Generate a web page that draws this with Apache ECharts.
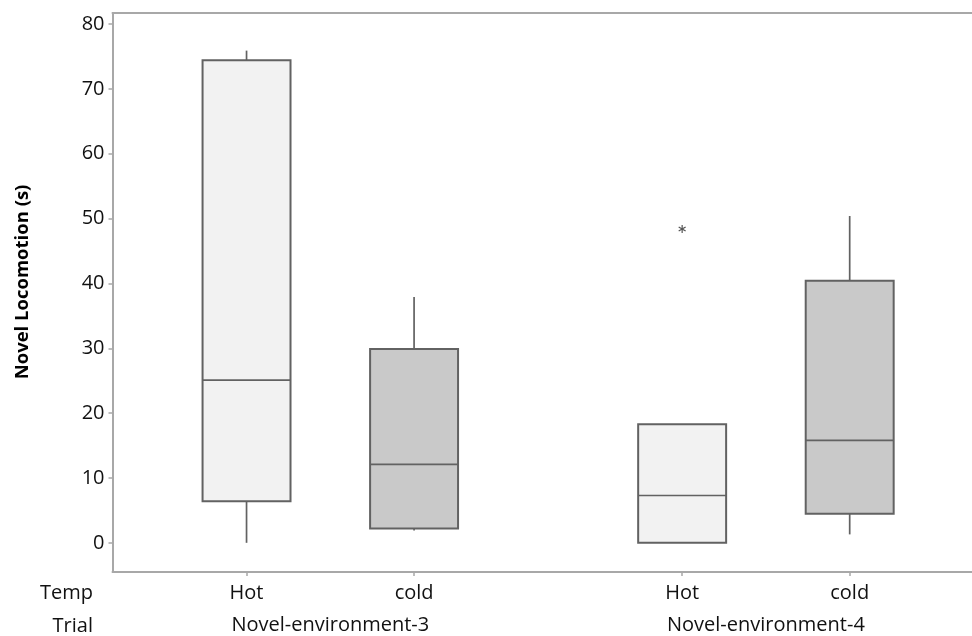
<!DOCTYPE html>
<html>
<head>
<meta charset="utf-8">
<script src="https://cdn.jsdelivr.net/npm/echarts@6/dist/echarts.min.js"></script>
<style>html,body{margin:0;padding:0;background:#fff;}#c{width:972px;height:636px;}</style>
</head>
<body>
<div id="c"></div>
<script>
// ---- data ----
var tempLabels = ['Hot', 'cold', 'Hot', 'cold'];
var trialLabels = ['Novel-environment-3', 'Novel-environment-4'];
var slotPos = [1, 2, 3.6, 4.6];          // logical slot of each box on the x axis
var trialPos = [1.5, 4.1];               // logical centre of each trial group
var boxMin = [0.0, 1.9, 0.0, 1.3];
var boxQ1 = [6.4, 2.2, 0.0, 4.5];
var boxMedian = [25.1, 12.1, 7.3, 15.8];
var boxQ3 = [74.4, 29.9, 18.3, 40.4];
var boxMax = [75.9, 37.9, 18.3, 50.4];
var outliers = [[3.6, 48.4]];
var yTicks = [0, 10, 20, 30, 40, 50, 60, 70, 80];

// ---- build ----
var boxData = slotPos.map(function (x, i) {
  return [x, boxMin[i], boxQ1[i], boxMedian[i], boxQ3[i], boxMax[i], tempLabels[i] === 'Hot' ? 0 : 1];
});
var FILLS = ['#f2f2f2', '#c9c9c9'];
var STROKE = '#626262';
var BOX_W = 0.525;
var FONT = 'Open Sans';
var TXT = '#111111';

function renderBox(params, api) {
  var x = api.value(0);
  var half = api.size([BOX_W, 0])[0] / 2;
  var pMin = api.coord([x, api.value(1)]);
  var pQ1 = api.coord([x, api.value(2)]);
  var pMed = api.coord([x, api.value(3)]);
  var pQ3 = api.coord([x, api.value(4)]);
  var pMax = api.coord([x, api.value(5)]);
  var fill = FILLS[api.value(6)];
  var ls = { stroke: STROKE, lineWidth: 1.7 };
  return {
    type: 'group',
    children: [
      { type: 'line', shape: { x1: pMin[0], y1: pMin[1], x2: pQ1[0], y2: pQ1[1] }, style: ls },
      { type: 'line', shape: { x1: pQ3[0], y1: pQ3[1], x2: pMax[0], y2: pMax[1] }, style: ls },
      { type: 'rect', shape: { x: pQ1[0] - half, y: pQ3[1], width: half * 2, height: pQ1[1] - pQ3[1] },
        style: { fill: fill, stroke: STROKE, lineWidth: 2 } },
      { type: 'line', shape: { x1: pMed[0] - half, y1: pMed[1], x2: pMed[0] + half, y2: pMed[1] }, style: ls }
    ]
  };
}

function renderStar(params, api) {
  var p = api.coord([api.value(0), api.value(1)]);
  var r = 4;
  var ls = { stroke: '#555', lineWidth: 1.2 };
  var kids = [];
  [90, 30, -30].forEach(function (deg) {
    var a = deg * Math.PI / 180;
    kids.push({ type: 'line', shape: { x1: p[0] - r * Math.cos(a), y1: p[1] - r * Math.sin(a), x2: p[0] + r * Math.cos(a), y2: p[1] + r * Math.sin(a) }, style: ls });
  });
  return { type: 'group', children: kids };
}

var chart = echarts.init(document.getElementById('c'), null, { renderer: 'canvas' });
var axisColor = '#a8a8a8';
var XMIN = 0.2, XMAX = 5.33;
chart.setOption({
  animation: false,
  backgroundColor: '#ffffff',
  grid: { left: 112.5, top: 13, right: 0, bottom: 64, show: false },
  xAxis: [
    {
      type: 'value', min: XMIN, max: XMAX, position: 'bottom',
      axisLine: { show: true, onZero: false, lineStyle: { color: axisColor, width: 2 } },
      axisTick: { show: true, length: 4, customValues: slotPos, lineStyle: { color: axisColor, width: 1.5 } },
      splitLine: { show: false },
      axisLabel: {
        customValues: slotPos, margin: 11, color: TXT, fontFamily: FONT, fontSize: 20,
        formatter: function (v) { var i = slotPos.indexOf(v); return i >= 0 ? tempLabels[i] : ''; }
      }
    },
    {
      type: 'value', min: XMIN, max: XMAX, position: 'bottom', offset: 32,
      axisLine: { show: false }, axisTick: { show: false }, splitLine: { show: false },
      axisLabel: {
        customValues: trialPos, margin: 11, color: TXT, fontFamily: FONT, fontSize: 20,
        formatter: function (v) { var i = trialPos.indexOf(v); return i >= 0 ? trialLabels[i] : ''; }
      }
    },
    {
      type: 'value', min: XMIN, max: XMAX, position: 'top',
      axisLine: { show: true, onZero: false, lineStyle: { color: axisColor, width: 2 } },
      axisTick: { show: false }, axisLabel: { show: false }, splitLine: { show: false }
    }
  ],
  yAxis: {
    type: 'value', min: -4.5, max: 81.7,
    axisLine: { show: true, onZero: false, lineStyle: { color: axisColor, width: 2 } },
    axisTick: { show: true, length: 4, customValues: yTicks, lineStyle: { color: axisColor, width: 1.5 } },
    splitLine: { show: false },
    axisLabel: { customValues: yTicks, margin: 8, color: TXT, fontFamily: FONT, fontSize: 20 }
  },
  graphic: [
    { type: 'text', x: 93, y: 593, style: { text: 'Temp', fill: TXT, font: '20px "Open Sans"', textAlign: 'right', textVerticalAlign: 'middle' } },
    { type: 'text', x: 93, y: 626, style: { text: 'Trial', fill: TXT, font: '20px "Open Sans"', textAlign: 'right', textVerticalAlign: 'middle' } },
    { type: 'text', x: 23, y: 282, rotation: Math.PI / 2, style: { text: 'Novel Locomotion (s)', fill: '#000', font: 'bold 18.5px "Open Sans"', textAlign: 'center', textVerticalAlign: 'middle' } }
  ],
  series: [
    { type: 'custom', xAxisIndex: 0, renderItem: renderBox, data: boxData, encode: { x: 0, y: [1, 2, 3, 4, 5] }, clip: false },
    { type: 'custom', xAxisIndex: 0, renderItem: renderStar, data: outliers, encode: { x: 0, y: 1 } }
  ]
});
</script>
</body>
</html>
